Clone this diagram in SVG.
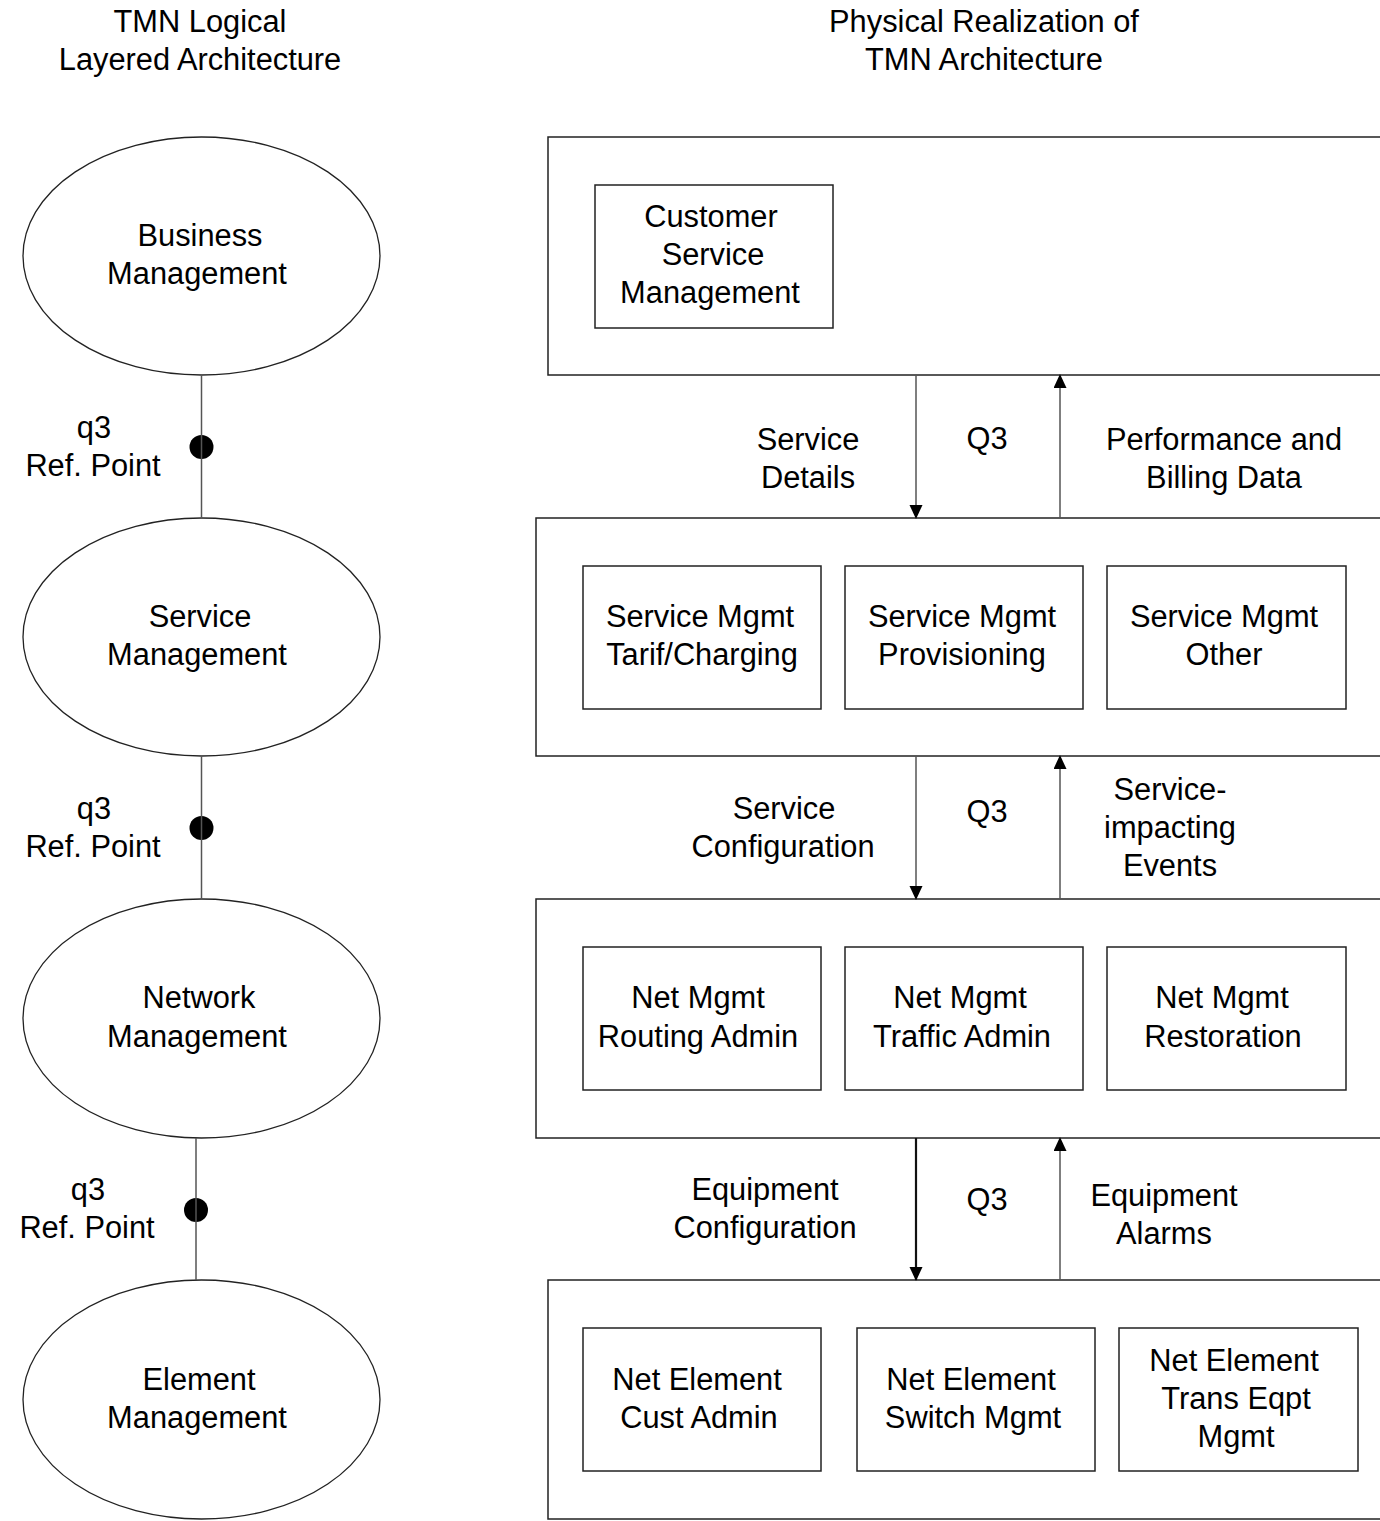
<svg xmlns="http://www.w3.org/2000/svg" width="1380" height="1521" viewBox="0 0 1380 1521">
  <style>
    text { font-family: "Liberation Sans", Arial, sans-serif; font-size: 30.8px; fill: #000; text-anchor: middle; }
    .layer { fill: #fff; stroke: #222; stroke-width: 1.5; }
    .box { fill: #fff; stroke: #222; stroke-width: 1.5; }
    .oval { fill: #fff; stroke: #222; stroke-width: 1.3; }
    .link { stroke: #555; stroke-width: 1.5; fill: none; }
    .flow { stroke: #555; stroke-width: 1.5; fill: none; }
    .flow-strong { stroke: #111; stroke-width: 2.2; fill: none; }
    .dot { fill: #000; }
  </style>
  <defs>
    <marker id="arrow" markerUnits="userSpaceOnUse" markerWidth="15" markerHeight="16" refX="13" refY="6.5" orient="auto">
      <path d="M0,0 L14,6.5 L0,13 Z" fill="#000"/>
    </marker>
  </defs>
  <rect width="1380" height="1521" fill="#fff"/>

  <!-- column headings -->
  <g id="title-logical">
    <text x="200" y="32">TMN Logical</text>
    <text x="200" y="70">Layered Architecture</text>
  </g>
  <g id="title-physical">
    <text x="984" y="32">Physical Realization of</text>
    <text x="984" y="70">TMN Architecture</text>
  </g>

  <!-- logical layers -->
  <g id="layer-business">
    <ellipse class="oval" cx="201.5" cy="256" rx="178.5" ry="119"/>
    <text x="200" y="246">Business</text>
    <text x="197" y="284">Management</text>
  </g>
  <g id="layer-service">
    <ellipse class="oval" cx="201.5" cy="637" rx="178.5" ry="119"/>
    <text x="200" y="627">Service</text>
    <text x="197" y="665">Management</text>
  </g>
  <g id="layer-network">
    <ellipse class="oval" cx="201.5" cy="1018.5" rx="178.5" ry="119.5"/>
    <text x="199" y="1008">Network</text>
    <text x="197" y="1047">Management</text>
  </g>
  <g id="layer-element">
    <ellipse class="oval" cx="201.5" cy="1399.5" rx="178.5" ry="119.5"/>
    <text x="199" y="1390">Element</text>
    <text x="197" y="1428">Management</text>
  </g>

  <!-- reference points between logical layers -->
  <g id="refpoint-1">
    <circle class="dot" cx="201.5" cy="447" r="12"/>
    <text x="94" y="438">q3</text>
    <text x="93" y="476">Ref. Point</text>
  </g>
  <g id="refpoint-2">
    <circle class="dot" cx="201.5" cy="828" r="12"/>
    <text x="94" y="819">q3</text>
    <text x="93" y="857">Ref. Point</text>
  </g>
  <g id="refpoint-3">
    <circle class="dot" cx="196" cy="1210" r="12"/>
    <text x="88" y="1200">q3</text>
    <text x="87" y="1238">Ref. Point</text>
  </g>

  <!-- physical layers -->
  <g id="phys-business">
    <rect class="layer" x="548" y="137" width="840" height="238"/>
    <g id="customer-service-mgmt">
      <rect class="box" x="595" y="185" width="238" height="143"/>
      <text x="711" y="227">Customer</text>
      <text x="713" y="265">Service</text>
      <text x="710" y="303">Management</text>
    </g>
  </g>
  <g id="phys-service">
    <rect class="layer" x="536" y="518" width="852" height="238"/>
    <g id="svc-tarif">
      <rect class="box" x="583" y="566" width="238" height="143"/>
      <text x="700" y="627">Service Mgmt</text>
      <text x="702" y="665">Tarif/Charging</text>
    </g>
    <g id="svc-provisioning">
      <rect class="box" x="845" y="566" width="238" height="143"/>
      <text x="962" y="627">Service Mgmt</text>
      <text x="962" y="665">Provisioning</text>
    </g>
    <g id="svc-other">
      <rect class="box" x="1107" y="566" width="239" height="143"/>
      <text x="1224" y="627">Service Mgmt</text>
      <text x="1224" y="665">Other</text>
    </g>
  </g>
  <g id="phys-network">
    <rect class="layer" x="536" y="899" width="852" height="239"/>
    <g id="net-routing">
      <rect class="box" x="583" y="947" width="238" height="143"/>
      <text x="698" y="1008">Net Mgmt</text>
      <text x="698" y="1047">Routing Admin</text>
    </g>
    <g id="net-traffic">
      <rect class="box" x="845" y="947" width="238" height="143"/>
      <text x="960" y="1008">Net Mgmt</text>
      <text x="962" y="1047">Traffic Admin</text>
    </g>
    <g id="net-restoration">
      <rect class="box" x="1107" y="947" width="239" height="143"/>
      <text x="1222" y="1008">Net Mgmt</text>
      <text x="1223" y="1047">Restoration</text>
    </g>
  </g>
  <g id="phys-element">
    <rect class="layer" x="548" y="1280" width="840" height="239"/>
    <g id="ne-cust">
      <rect class="box" x="583" y="1328" width="238" height="143"/>
      <text x="697" y="1390">Net Element</text>
      <text x="699" y="1428">Cust Admin</text>
    </g>
    <g id="ne-switch">
      <rect class="box" x="857" y="1328" width="238" height="143"/>
      <text x="971" y="1390">Net Element</text>
      <text x="973" y="1428">Switch Mgmt</text>
    </g>
    <g id="ne-trans">
      <rect class="box" x="1119" y="1328" width="239" height="143"/>
      <text x="1234" y="1371">Net Element</text>
      <text x="1236" y="1409">Trans Eqpt</text>
      <text x="1236" y="1447">Mgmt</text>
    </g>
  </g>

  <!-- connectors -->
  <g id="connectors">
    <line class="link" x1="201.5" y1="375" x2="201.5" y2="518"/>
    <line class="link" x1="201.5" y1="756" x2="201.5" y2="899"/>
    <line class="link" x1="196" y1="1138" x2="196" y2="1280"/>

    <line class="flow" x1="916" y1="375" x2="916" y2="518" marker-end="url(#arrow)"/>
    <line class="flow" x1="1060" y1="518" x2="1060" y2="375" marker-end="url(#arrow)"/>
    <line class="flow" x1="916" y1="756" x2="916" y2="899" marker-end="url(#arrow)"/>
    <line class="flow" x1="1060" y1="899" x2="1060" y2="756" marker-end="url(#arrow)"/>
    <line class="flow-strong" x1="916" y1="1138" x2="916" y2="1280" marker-end="url(#arrow)"/>
    <line class="flow" x1="1060" y1="1280" x2="1060" y2="1138" marker-end="url(#arrow)"/>
  </g>

  <!-- interface labels -->
  <g id="labels-q3-upper">
    <text x="808" y="450">Service</text>
    <text x="808" y="488">Details</text>
    <text x="987" y="449">Q3</text>
    <text x="1224" y="450">Performance and</text>
    <text x="1224" y="488">Billing Data</text>
  </g>
  <g id="labels-q3-middle">
    <text x="784" y="819">Service</text>
    <text x="783" y="857">Configuration</text>
    <text x="987" y="822">Q3</text>
    <text x="1170" y="800">Service-</text>
    <text x="1170" y="838">impacting</text>
    <text x="1170" y="876">Events</text>
  </g>
  <g id="labels-q3-lower">
    <text x="765" y="1200">Equipment</text>
    <text x="765" y="1238">Configuration</text>
    <text x="987" y="1210">Q3</text>
    <text x="1164" y="1206">Equipment</text>
    <text x="1164" y="1244">Alarms</text>
  </g>
</svg>
